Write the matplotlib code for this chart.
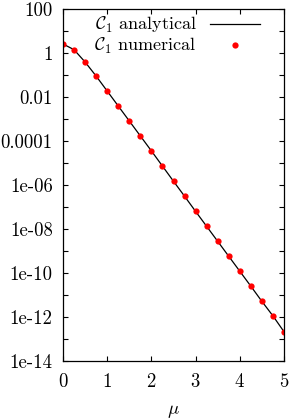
import numpy as np
from matplotlib import pyplot as plt

#--données----------------------------------
mu = [0.0, 0.25, 0.5, 0.75, 1.0, 1.25, 1.5, 1.75, 2.0, 2.25, 2.5,
      2.75, 3.0, 3.25, 3.5, 3.75, 4.0, 4.25, 4.5, 4.75, 5.0]
log_c1 = [0.41, 0.15, -0.41, -1.05, -1.73, -2.41, -3.09, -3.77, -4.45, -5.14, -5.83,
          -6.51, -7.2, -7.88, -8.56, -9.24, -9.92, -10.6, -11.29, -11.95, -12.67]
ytick_exp = list(range(-14, 3))
ytick_lab = ['1e-14', '', '1e-12', '', '1e-10', '', '1e-08', '', '1e-06', '',
             '0.0001', '', '0.01', '', '1', '', '100']

c1 = 10.0 ** np.array(log_c1)

plt.rcParams['font.family'] = ['cmr10', 'DejaVu Serif']
plt.rcParams['mathtext.fontset'] = 'cm'
plt.rcParams['axes.formatter.use_mathtext'] = True

fig = plt.figure(figsize=(2.93, 4.19), dpi=100)
ax = fig.add_axes([63/293, 58/419, 221/293, 352/419])

ax.plot(mu, c1, '-', color='black', lw=0.9, label=r'$\mathcal{C}_1$ analytical')
ax.plot(mu, c1, 'o', color='red', ms=4.5, mec='none', label=r'$\mathcal{C}_1$ numerical')

ax.set_yscale('log')
ax.set_xlim(0, 5)
ax.set_ylim(1e-14, 1e2)
ax.set_yticks([10.0**k for k in ytick_exp])
ax.set_yticklabels(ytick_lab)
ax.yaxis.set_minor_locator(plt.NullLocator())
ax.set_xticks([0, 1, 2, 3, 4, 5])
ax.tick_params(direction='in', top=True, right=True, length=3.6, width=0.8, labelsize=13.5)
ax.tick_params(axis='x', pad=8.5)
ax.tick_params(axis='y', pad=7.5)
ax.set_xlabel(r'$\mu$', fontsize=13.5, labelpad=8)
for s in ax.spines.values():
    s.set_linewidth(0.9)

ax.legend(loc='upper right', frameon=False, markerfirst=False, fontsize=13,
          handlelength=2.8, handletextpad=0.7, borderaxespad=0.0, labelspacing=0.05,
          numpoints=1, bbox_to_anchor=(0.925, 1.003))

plt.savefig('out.png', dpi=100)
